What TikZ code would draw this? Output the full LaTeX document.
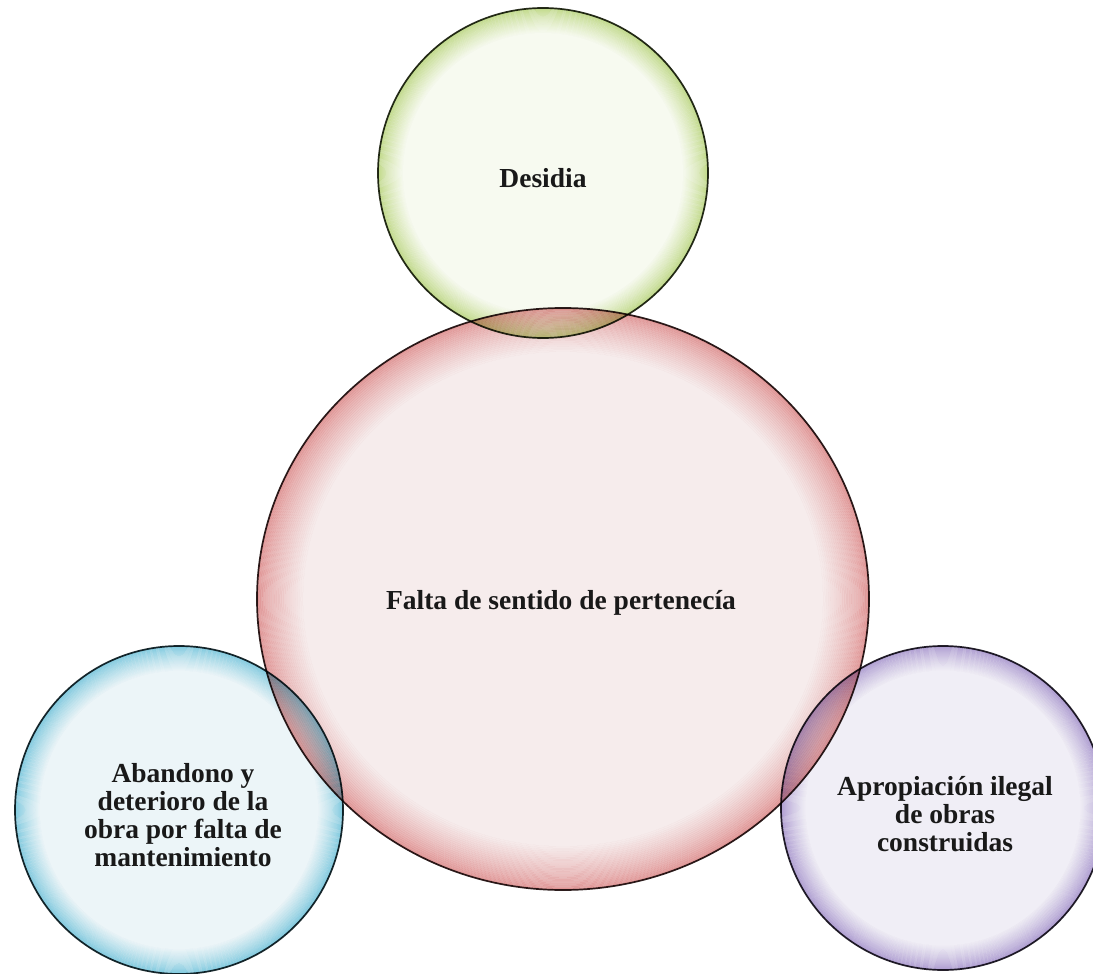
\documentclass[tikz,border=0pt]{standalone}
\usepackage{fontspec}
\setmainfont{Liberation Serif}
\usetikzlibrary{shapes.geometric}

\definecolor{grnIn}{RGB}{247,250,240}
\definecolor{grnEdge}{RGB}{196,220,140}
\definecolor{pnkIn}{RGB}{246,236,236}
\definecolor{pnkEdge}{RGB}{226,152,152}
\definecolor{bluIn}{RGB}{236,245,248}
\definecolor{bluEdge}{RGB}{130,205,225}
\definecolor{purIn}{RGB}{240,238,246}
\definecolor{purEdge}{RGB}{178,160,212}

% glow fill made of non-overlapping rings, multiplied onto what lies below
% cx, cy, rx, ry, inner colour, edge colour
\newcommand\bubglow[6]{%
  \foreach \k in {0,...,23}{%
    \pgfmathsetmacro\bubT{(\k+0.5)/24}%
    \pgfmathtruncatemacro\bubP{100*(\bubT^0.75)}%
    \pgfmathsetmacro\bubFa{1-0.15*\k/24}%
    \pgfmathsetmacro\bubFb{1-0.15*(\k+1)/24}%
    \fill[#5!\bubP!#6, even odd rule, blend mode=multiply]
      (#1,#2) ellipse [x radius={\bubFa*#3pt}, y radius={\bubFa*#4pt}]
      (#1,#2) ellipse [x radius={\bubFb*#3pt}, y radius={\bubFb*#4pt}];
  }%
  \fill[#5, blend mode=multiply] (#1,#2) ellipse [x radius={0.85*#3pt}, y radius={0.85*#4pt}];
}

\tikzset{
  rim/.style={inner sep=0pt, line width=1.7pt, blend mode=multiply},
  bubtext/.style={font=\fontsize{27.5}{28}\selectfont\bfseries, align=center, text=black!90, inner sep=0pt}
}

\begin{document}
\begin{tikzpicture}[x=1pt,y=-1pt]
\fill[white] (0,0) rectangle (1093,974);
\useasboundingbox (0,0) rectangle (1093,974);

\bubglow{563}{599}{306}{291}{pnkIn}{pnkEdge}
\bubglow{543}{173}{165}{165}{grnIn}{grnEdge}
\bubglow{179}{810}{164}{164}{bluIn}{bluEdge}
\bubglow{943}{808}{162}{162}{purIn}{purEdge}

\node[rim, ellipse, minimum width=612pt, minimum height=582pt, draw=black!80!pnkEdge] (pink) at (563,599) {};
\node[rim, circle, minimum size=330pt, draw=black!80!grnEdge] (green) at (543,173) {};
\node[rim, circle, minimum size=328pt, draw=black!80!bluEdge] (blue) at (179,810) {};
\node[rim, circle, minimum size=324pt, draw=black!80!purEdge] (purple) at (943,808) {};

\node[bubtext] (tgreen) at (543,178) {Desidia};
\node[bubtext] (tpink) at (561,603) {Falta de sentido de pertenecía};
\node[bubtext] (tblue) at (183,815) {Abandono y\\deterioro de la\\obra por falta de\\mantenimiento};
\node[bubtext] (tpurple) at (945,814) {Apropiación ilegal\\de obras\\construidas};
\end{tikzpicture}
\end{document}
